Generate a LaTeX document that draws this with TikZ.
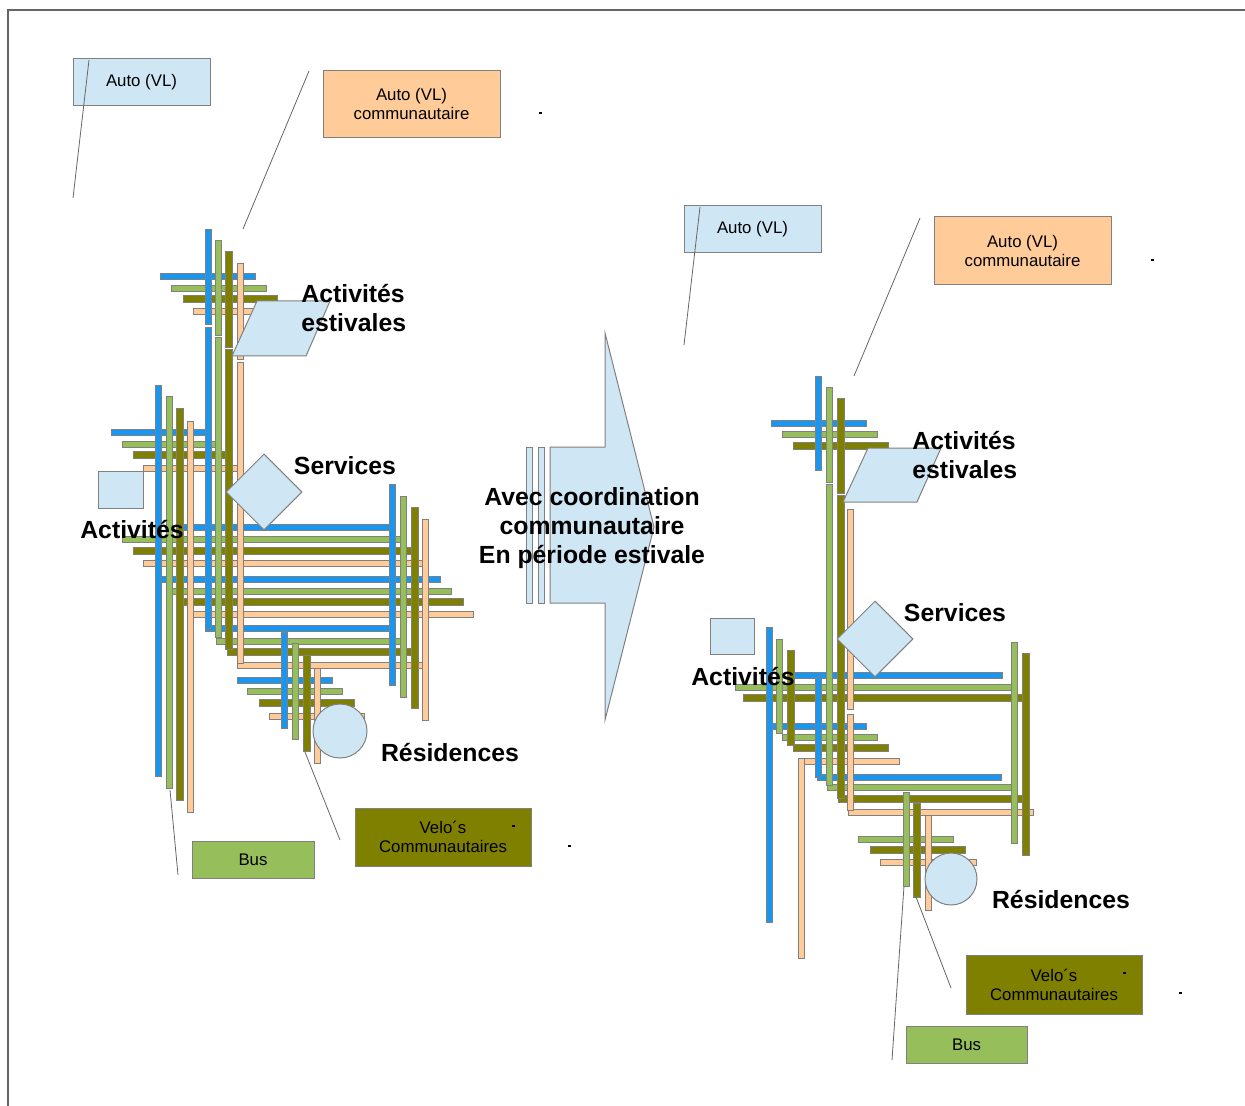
\documentclass[tikz,border=0pt]{standalone}
\usepackage{fontspec}
\setmainfont{Liberation Sans}
\usetikzlibrary{shapes.geometric}
\definecolor{boxblue}{RGB}{207,231,245}
\definecolor{peach}{RGB}{255,204,153}
\definecolor{lightgreen}{RGB}{150,190,90}
\definecolor{olivebar}{RGB}{128,128,0}
\definecolor{barblue}{RGB}{24,150,240}
\definecolor{edgegray}{RGB}{128,128,128}

\begin{document}
\begin{tikzpicture}[
x=0.5pt, y=-0.5pt,
every node/.style={font=\fontsize{8.4}{9.5}\selectfont},
legend/.style={draw=edgegray, line width=0.5pt, align=center, inner sep=0pt},
place/.style={draw=edgegray, fill=boxblue, line width=0.5pt, inner sep=0pt},
title/.style={font=\fontsize{12.4}{14.3}\selectfont\bfseries, align=left, inner sep=0pt},
bluebar/.style={draw=edgegray, fill=barblue, line width=0.45pt},
greenbar/.style={draw=edgegray, fill=lightgreen, line width=0.45pt},
olivebar/.style={draw=edgegray, fill=olivebar, line width=0.45pt},
peachbar/.style={draw=edgegray, fill=peach, line width=0.45pt},
leader/.style={draw=edgegray!80!black, line width=0.4pt},
frame/.style={draw=black!60, line width=0.6pt}
]
\useasboundingbox (0,0) rectangle (1245,1106);
\draw[frame] (8,1106) -- (8,10) -- (1245,10);

\foreach \y/\xa/\xb in {276/160/255, 432/111/205, 527/183/390, 579/160/440, 628/205/390, 680/237/332,
  423/771/866, 675/790/1002, 726/770/866, 777/817/1001}
  \draw[bluebar] (\xa,{\y-3}) rectangle (\xb,{\y+3});
\foreach \y/\xa/\xb in {288/171/266, 444/122/216, 539/122/400, 591/170/451, 641/216/400, 691/247/342,
  434/782/877, 687/735/1012, 737/782/877, 787/827/1012, 839/858/953}
  \draw[greenbar] (\xa,{\y-3}) rectangle (\xb,{\y+3});
\foreach \y/\xa/\xb in {299/183/277, 455/133/227, 551/133/413, 602/183/463, 652/227/413, 703/259/354,
  446/793/888, 698/743/1023, 748/793/888, 799/838/1023, 850/870/965}
  \draw[olivebar] (\xa,{\y-3.5}) rectangle (\xb,{\y+3.5});
\foreach \y/\xa/\xb in {311/193/258, 468/143/237, 563/143/423, 614/193/473, 665/237/423, 716/269/364,
  761/802/899, 812/848/1033, 862/880/976}
  \draw[peachbar] (\xa,{\y-3}) rectangle (\xb,{\y+3});

\foreach \x/\ya/\yb in {208/229/324, 208/327/628, 158/385/776, 392/484/685, 284/632/728,
  818/376/470, 769/627/922, 818/677/777}
  \draw[bluebar] ({\x-3},\ya) rectangle ({\x+3},\yb);
\foreach \x/\ya/\yb in {218/240/335, 218/337/637, 169/396/788, 403/496/697, 295/643/739,
  829/387/482, 829/484/785, 779/639/733, 1014/642/843, 906/792/886}
  \draw[greenbar] ({\x-3},\ya) rectangle ({\x+3},\yb);
\foreach \x/\ya/\yb in {229/251/347, 229/349/649, 180/408/800, 415/507/708, 307/655/751,
  841/398/493, 841/495/798, 791/650/745, 1026/653/855, 917/803/897}
  \draw[olivebar] ({\x-3.5},\ya) rectangle ({\x+3.5},\yb);
\foreach \x/\ya/\yb in {240/263/359, 240/362/663, 190/421/812, 425/519/720, 317/668/763,
  850/509/709, 850/714/810, 801/758/958, 928/815/910}
  \draw[peachbar] ({\x-3},\ya) rectangle ({\x+3},\yb);

\draw[place] (232,356) -- (257,301) -- (330,301) -- (306,356) -- cycle;
\node[place, diamond, minimum width=38pt, minimum height=38pt] (servL) at (264,492) {};
\node[place, rectangle, minimum width=22.5pt, minimum height=18.5pt] (actL) at (120.5,489.5) {};
\node[place, circle, minimum size=27pt] (resL) at (340,731) {};

\draw[place] (843,502) -- (868,448) -- (941,448) -- (917,502) -- cycle;
\node[place, diamond, minimum width=38pt, minimum height=38pt] (servR) at (875,639) {};
\node[place, rectangle, minimum width=22pt, minimum height=18pt] (actR) at (732,636) {};
\node[place, circle, minimum size=26pt] (resR) at (951,879) {};

\draw[place] (526,447) rectangle (532,603);
\draw[place] (538,447) rectangle (544,603);
\draw[place] (550,447) -- (605,447) -- (605,333) -- (654,527) -- (605,720) -- (605,603) -- (550,603) -- cycle;

\node[legend, fill=boxblue, minimum width=68.5pt, minimum height=23.5pt] (autoL) at (141.5,82.5) {Auto (VL)};
\node[legend, fill=peach, minimum width=88.5pt, minimum height=33.5pt] (commL) at (411.5,104.5) {Auto (VL)\\communautaire};
\node[legend, fill=lightgreen, minimum width=61pt, minimum height=18.5pt] (busL) at (253,859.5) {Bus};
\node[legend, fill=olivebar, minimum width=88pt, minimum height=29pt] (veloL) at (443,837) {Velo´s\\Communautaires};
\node[legend, fill=boxblue, minimum width=68.5pt, minimum height=23.5pt] (autoR) at (752.5,229.5) {Auto (VL)};
\node[legend, fill=peach, minimum width=88.5pt, minimum height=34pt] (commR) at (1022.5,251) {Auto (VL)\\communautaire};
\node[legend, fill=lightgreen, minimum width=60.5pt, minimum height=18.5pt] (busR) at (966.5,1044.5) {Bus};
\node[legend, fill=olivebar, minimum width=88pt, minimum height=29.5pt] (veloR) at (1054,984.5) {Velo´s\\Communautaires};

\coordinate (autoLa) at (89,60);
\coordinate (autoLb) at (73,198);
\coordinate (commLa) at (309,71);
\coordinate (commLb) at (243,229);
\coordinate (busLa) at (170,790);
\coordinate (busLb) at (178,875);
\coordinate (veloLa) at (305,752);
\coordinate (veloLb) at (340,840);
\coordinate (autoRa) at (700,207);
\coordinate (autoRb) at (684,345);
\coordinate (commRa) at (920,218);
\coordinate (commRb) at (854,376);
\coordinate (busRa) at (904,886);
\coordinate (busRb) at (892,1060);
\coordinate (veloRa) at (916,897);
\coordinate (veloRb) at (951,988);
\draw[leader] (autoLa) -- (autoLb);
\draw[leader] (commLa) -- (commLb);
\draw[leader] (busLa) -- (busLb);
\draw[leader] (veloLa) -- (veloLb);
\draw[leader] (autoRa) -- (autoRb);
\draw[leader] (commRa) -- (commRb);
\draw[leader] (busRa) -- (busRb);
\draw[leader] (veloRa) -- (veloRb);

\foreach \x/\y in {540/113, 513/826, 569/846, 1152/260, 1124/973, 1180/993}
  \fill ({\x-1.5},{\y-1}) rectangle ({\x+1.5},{\y+1});

\node[title, anchor=west] (estLtxt) at (301,308) {Activités\\estivales};
\node[title] (servLtxt) at (345,466) {Services};
\node[title] (actLtxt) at (132,530) {Activités};
\node[title] (resLtxt) at (450,753) {Résidences};
\node[title, align=center] (avec) at (592,528) {Avec coordination\\communautaire\\En période estivale};
\node[title, anchor=west] (estRtxt) at (912,455) {Activités\\estivales};
\node[title] (servRtxt) at (955,613) {Services};
\node[title] (actRtxt) at (743,677) {Activités};
\node[title] (resRtxt) at (1061,900) {Résidences};
\end{tikzpicture}
\end{document}
